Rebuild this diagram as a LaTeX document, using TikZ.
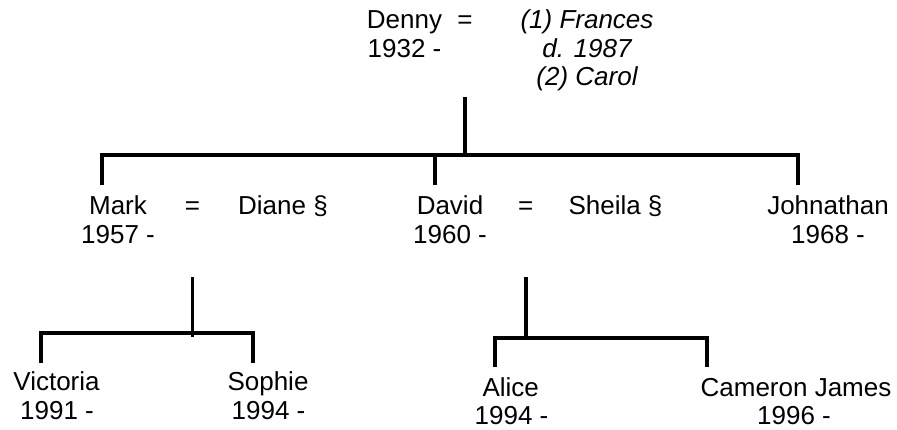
\documentclass[tikz,border=0pt]{standalone}
\usepackage{fontspec}
\setmainfont{Liberation Sans}
\begin{document}
\begin{tikzpicture}[x=1pt,y=-1pt,
  lbl/.style={inner sep=0pt,outer sep=0pt,anchor=base,font=\fontsize{26}{28.5}\selectfont},
  ilbl/.style={lbl,font=\fontsize{26}{28.5}\selectfont\itshape},
  link/.style={line width=3.8pt,line join=miter,line cap=butt}]
\useasboundingbox (0,0) rectangle (897,429);
% generation 1
\node[lbl]  (denny)  at (404.5,28.5) {Denny};
\node[lbl]  (dennyY) at (404.5,57)   {1932 -};
\node[lbl]  (eqD)    at (465,28.5)   {=};
\node[ilbl] (fr1)    at (587,28.5)   {(1) Frances};
\node[ilbl] (fr2)    at (587,57)     {d. 1987};
\node[ilbl] (fr3)    at (587,85.5)   {(2) Carol};
% generation 2
\node[lbl] (mark)   at (118,214.5) {Mark};
\node[lbl] (markY)  at (118,243)   {1957 -};
\node[lbl] (eqM)    at (192.5,214.5) {=};
\node[lbl] (diane)  at (283,214.5) {Diane §};
\node[lbl] (david)  at (450,214.5) {David};
\node[lbl] (davidY) at (450,243)   {1960 -};
\node[lbl] (eqV)    at (525.7,214.5) {=};
\node[lbl] (sheila) at (615.5,214.5) {Sheila §};
\node[lbl] (john)   at (828,214.5) {Johnathan};
\node[lbl] (johnY)  at (828,243)   {1968 -};
% generation 3
\node[lbl] (vic)    at (56.5,390.7)  {Victoria};
\node[lbl] (vicY)   at (57,419.3)    {1991 -};
\node[lbl] (soph)   at (268,390.7)   {Sophie};
\node[lbl] (sophY)  at (268.5,419.3) {1994 -};
\node[lbl] (alice)  at (510.7,396.5) {Alice};
\node[lbl] (aliceY) at (511.5,424.5) {1994 -};
\node[lbl] (cam)    at (796,396.5)   {Cameron James};
\node[lbl] (camY)   at (794,424.5)   {1996 -};
% junction coordinates
\coordinate (t0) at (465,97);
\coordinate (b0) at (465,155);
\coordinate (dMark) at (102,185);
\coordinate (dDavid) at (435,185);
\coordinate (dJohn) at (798,185);
\coordinate (t1) at (192.5,277);
\coordinate (b1) at (192.5,337);
\coordinate (dVic) at (41,363);
\coordinate (dSoph) at (253,363);
\coordinate (t2) at (525.7,277);
\coordinate (b2) at (525.7,338);
\coordinate (dAlice) at (495,367);
\coordinate (dCam) at (707,367);
% connectors
\draw[link] (t0) -- (b0);
\draw[link] (dMark) -- (dMark |- b0) -- (dJohn |- b0) -- (dJohn);
\draw[link] (dDavid |- b0) -- (dDavid);
\draw[link] (t1) -- (b1);
\draw[link] (dVic) -- (dVic |- 0,333) -- (dSoph |- 0,333) -- (dSoph);
\draw[link] (t2) -- (b2);
\draw[link] (dAlice) -- (dAlice |- b2) -- (dCam |- b2) -- (dCam);
\end{tikzpicture}
\end{document}
